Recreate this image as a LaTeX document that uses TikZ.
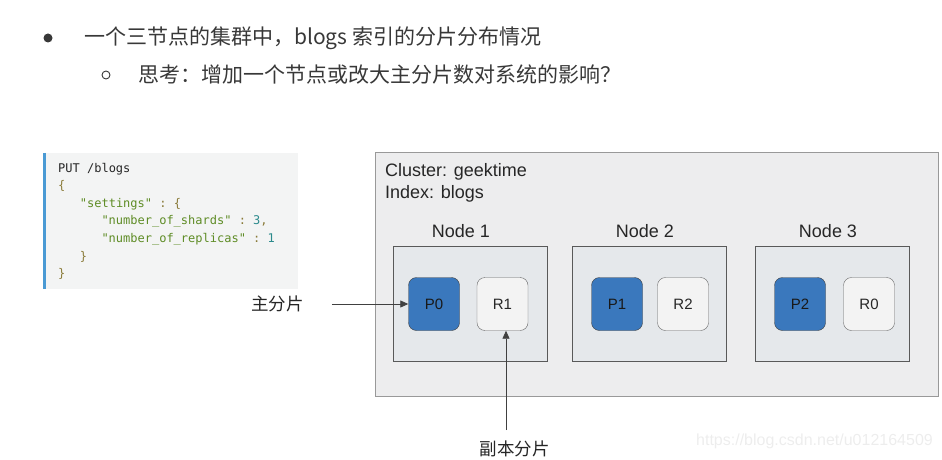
\documentclass[tikz,border=0pt]{standalone}
\usepackage{fontspec}
\setmainfont{Liberation Sans}
\setmonofont{DejaVu Sans Mono}
\newfontfamily\cjk{Noto Sans CJK SC}
\usepackage{xcolor}
\usetikzlibrary{positioning,arrows.meta}
\definecolor{text-gray}{HTML}{383838}
\definecolor{code-bg}{HTML}{F3F4F4}
\definecolor{code-bar}{HTML}{4A9AD4}
\definecolor{code-brace}{HTML}{8A7B39}
\definecolor{code-string}{HTML}{5E8C25}
\definecolor{code-number}{HTML}{2B8A8C}
\definecolor{cluster-fill}{HTML}{EDEDEE}
\definecolor{node-fill}{HTML}{E5E8EB}
\definecolor{primary-fill}{HTML}{3A78BD}
\definecolor{replica-fill}{HTML}{F3F3F3}
\tikzset{
    bullet-text/.style = {anchor=west, inner sep=0, text=text-gray, font=\cjk\fontsize{21}{25}\selectfont},
    code-line/.style = {anchor=base west, inner sep=0, font=\ttfamily\fontsize{12}{14}\selectfont},
    cluster-box/.style = {draw=gray!80, fill=cluster-fill, rectangle, minimum width=563, minimum height=244, inner sep=0},
    node-box/.style = {draw=black!65, fill=node-fill, rectangle, minimum width=154, minimum height=115, inner sep=0},
    node-title/.style = {font=\fontsize{18}{22}\selectfont, text=black!85},
    shard-box/.style = {rectangle, rounded corners=8pt, minimum width=51, minimum height=53, inner sep=0, font=\fontsize{15}{18}\selectfont},
    primary/.style = {shard-box, draw=black!75, fill=primary-fill, text=black!90},
    replica/.style = {shard-box, draw=black!60, fill=replica-fill, text=black!85},
    callout/.style = {inner sep=0, font=\cjk\fontsize{17.5}{21}\selectfont, text=black!85},
    pointer/.style = {draw=black!75, line width=0.8pt, -{Triangle[length=8pt,width=7pt]}},
}

\begin{document}
\begin{tikzpicture}[x=1pt, y=-1pt]
\useasboundingbox (0,0) rectangle (942,460);

% bullets on top
\node[circle, fill=text-gray, inner sep=0, minimum size=9] (bullet-1) at (48,38) {};
\node[bullet-text] (line-1) at (84,38) {一个三节点的集群中，blogs 索引的分片分布情况};
\node[circle, draw=text-gray, line width=0.9pt, inner sep=0, minimum size=8] (bullet-2) at (106,75) {};
\node[bullet-text] (line-2) at (138,75) {思考：增加一个节点或改大主分片数对系统的影响？};

% request body
\node[fill=code-bg, rectangle, minimum width=255, minimum height=136, inner sep=0] (code-box) at (170.5,221) {};
\draw[code-bar, line width=3pt] ([xshift=1.5pt]code-box.north west) -- ([xshift=1.5pt]code-box.south west);
\node[code-line, text=black!85] (code-1) at (58,172) {PUT /blogs};
\node[code-line, text=code-brace] (code-2) at (58,189.6) {\{};
\node[code-line] (code-3) at (58,207.2) {\hspace*{21.7pt}\textcolor{code-string}{"settings"} \textcolor{code-brace}{: \{}};
\node[code-line] (code-4) at (58,224.8) {\hspace*{43.3pt}\textcolor{code-string}{"number\_of\_shards"} \textcolor{code-brace}{:} \textcolor{code-number}{3}\textcolor{code-brace}{,}};
\node[code-line] (code-5) at (58,242.4) {\hspace*{43.3pt}\textcolor{code-string}{"number\_of\_replicas"} \textcolor{code-brace}{:} \textcolor{code-number}{1}};
\node[code-line, text=code-brace] (code-6) at (58,260) {\hspace*{21.7pt}\}};
\node[code-line, text=code-brace] (code-7) at (58,277.6) {\}};

% cluster
\node[cluster-box] (cluster) at (656.5,274) {};
\node[anchor=west, inner sep=0, font=\fontsize{18}{22}\selectfont, text=black!85] (cluster-name) at (385,172) {Cluster: geektime};
\node[anchor=west, inner sep=0, font=\fontsize{18}{22}\selectfont, text=black!85] (index-name) at (385,194) {Index: blogs};

\node[node-box] (node-1) at (470,303.5) {};
\node[node-box] (node-2) at (649,303.5) {};
\node[node-box] (node-3) at (832.5,303.5) {};
\node[node-title] (title-1) at (461,231) {Node 1};
\node[node-title] (title-2) at (645,231) {Node 2};
\node[node-title] (title-3) at (828,231) {Node 3};

\node[primary] (P0) at (434,304) {P0};
\node[replica] (R1) at (502.5,304) {R1};
\node[primary] (P1) at (617,304) {P1};
\node[replica] (R2) at (683,304) {R2};
\node[primary] (P2) at (800,304) {P2};
\node[replica] (R0) at (869,304) {R0};

% labels with arrows
\node[callout] (primary-label) at (277.5,304) {主分片};
\draw[pointer, shorten <=28pt] (primary-label.east) -- (P0.west);
\node[callout] (replica-label) at (514.5,449) {副本分片};
\coordinate (replica-tail) at (506,430);
\draw[pointer] (replica-tail) -- (replica-tail |- R1.south);

\node[inner sep=0, font=\fontsize{16}{19}\selectfont, text=black!7] (watermark) at (814.5,441) {https://blog.csdn.net/u012164509};
\end{tikzpicture}
\end{document}
